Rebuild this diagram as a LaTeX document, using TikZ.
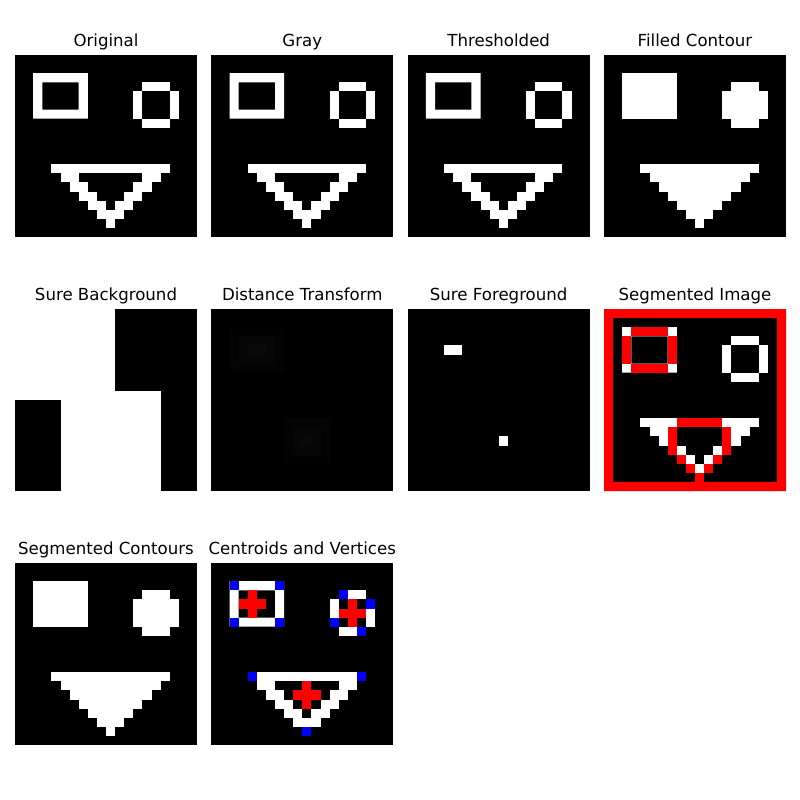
\documentclass[tikz,border=0pt]{standalone}
\usepackage{fontspec}
\setmainfont{DejaVu Sans}
\usepackage{tikz}

% pixel helpers (column, row in image pixels)
\newcommand{\pixel}[3]{\fill[#1] (#2,#3) rectangle ++(1,1);}
\newcommand{\pixrun}[4]{\fill[#1] (#2,#4) rectangle (#3+1,#4+1);}

% rectangle, circle and triangle outlines
\newcommand{\faceoutline}[1]{%
  \fill[#1,even odd rule] (2,2) rectangle (8,7) (3,3) rectangle (7,6);
  \pixrun{#1}{14}{16}{3}
  \pixrun{#1}{14}{16}{7}
  \fill[#1] (13,4) rectangle (14,7);
  \fill[#1] (17,4) rectangle (18,7);
  \pixrun{#1}{4}{16}{12}
  \foreach \r in {13,...,16} {
    \pixrun{#1}{\r-8}{\r-7}{\r}
    \pixrun{#1}{27-\r}{28-\r}{\r}
  }
  \pixrun{#1}{9}{11}{17}
  \pixel{#1}{10}{18}
}

% filled shapes
\newcommand{\facefilled}[1]{%
  \fill[#1] (2,2) rectangle (8,7);
  \pixrun{#1}{14}{16}{3}
  \pixrun{#1}{14}{16}{7}
  \fill[#1] (13,4) rectangle (18,7);
  \foreach \r in {12,...,18} {
    \pixrun{#1}{\r-8}{28-\r}{\r}
  }
}

\definecolor{dtone}{gray}{0.012}
\definecolor{dttwo}{gray}{0.024}
\definecolor{dtthree}{gray}{0.036}

\begin{document}
\begin{tikzpicture}[
    x=0.254mm,
    y=-0.254mm,
    panel/.style={
        x=2.3114mm,
        y=-2.3114mm
    },
    titre/.style={
        anchor=base,
        font=\fontsize{12pt}{14pt}\selectfont,
        inner sep=0pt
    }
]
\useasboundingbox[fill=white] (0,0) rectangle (800,800);

% Titles
\node[titre] (t-orig) at (106,46.7) {Original};
\node[titre] (t-gray) at (302.3,46.7) {Gray};
\node[titre] (t-thr) at (498.7,46.7) {Thresholded};
\node[titre] (t-fill) at (695,46.7) {Filled Contour};
\node[titre] (t-bg) at (106,300.7) {Sure Background};
\node[titre] (t-dist) at (302.3,300.7) {Distance Transform};
\node[titre] (t-fg) at (498.7,300.7) {Sure Foreground};
\node[titre] (t-seg) at (695,300.7) {Segmented Image};
\node[titre] (t-cont) at (106,554.7) {Segmented Contours};
\node[titre] (t-cent) at (302.3,554.7) {Centroids and Vertices};

% Original, Gray, Thresholded
\foreach \x in {15,211.3,407.7} {
  \begin{scope}[shift={(\x,55)}, panel]
    \fill[black] (0,0) rectangle (20,20);
    \faceoutline{white}
  \end{scope}
}

% Filled Contour
\begin{scope}[shift={(604,55)}, panel]
  \fill[black] (0,0) rectangle (20,20);
  \facefilled{white}
\end{scope}

% Sure Background
\begin{scope}[shift={(15,309)}, panel]
  \fill[white] (0,0) rectangle (20,20);
  \fill[black] (11,0) rectangle (20,9);
  \fill[black] (16,9) rectangle (20,20);
  \fill[black] (0,10) rectangle (5,20);
\end{scope}

% Distance Transform
\begin{scope}[shift={(211.3,309)}, panel]
  \fill[black] (0,0) rectangle (20,20);
  \fill[dtone] (2,2) rectangle (8,7);
  \fill[dttwo] (3,3) rectangle (7,6);
  \fill[dtthree] (4,4) rectangle (6,5);
  \fill[dtone] (8,12) rectangle (13,17);
  \fill[dttwo] (9,13) rectangle (12,16);
  \pixel{dtthree}{10}{14}
\end{scope}

% Sure Foreground
\begin{scope}[shift={(407.7,309)}, panel]
  \fill[black] (0,0) rectangle (20,20);
  \pixrun{white}{4}{5}{4}
  \pixel{white}{10}{14}
\end{scope}

% Segmented Image
\begin{scope}[shift={(604,309)}, panel]
  \fill[black] (0,0) rectangle (20,20);
  \fill[red,even odd rule] (0,0) rectangle (20,20) (1,1) rectangle (19,19);
  \faceoutline{white}
  \pixrun{red}{3}{6}{2}
  \pixrun{red}{3}{6}{6}
  \fill[red] (2,3) rectangle (3,6);
  \fill[red] (7,3) rectangle (8,6);
  \pixrun{red}{8}{12}{12}
  \fill[red] (7,13) rectangle (8,16);
  \fill[red] (13,13) rectangle (14,16);
  \pixel{red}{8}{16}
  \pixel{red}{12}{16}
  \pixel{red}{9}{17}
  \pixel{red}{11}{17}
  \pixel{red}{10}{18}
\end{scope}

% Segmented Contours
\begin{scope}[shift={(15,563)}, panel]
  \fill[black] (0,0) rectangle (20,20);
  \facefilled{white}
\end{scope}

% Centroids and Vertices
\begin{scope}[shift={(211.3,563)}, panel]
  \fill[black] (0,0) rectangle (20,20);
  \faceoutline{white}
  % centroids
  \fill[red] (4,3) rectangle (5,6);
  \fill[red] (3,4) rectangle (6,5);
  \fill[red] (15,4) rectangle (16,7);
  \fill[red] (14,5) rectangle (17,6);
  \fill[red] (10,13) rectangle (11,16);
  \fill[red] (9,14) rectangle (12,15);
  % vertices
  \foreach \c/\r in {2/2,7/2,2/6,7/6,14/3,17/4,13/6,16/7,4/12,16/12,10/18} {
    \pixel{blue}{\c}{\r}
  }
\end{scope}

\end{tikzpicture}
\end{document}
